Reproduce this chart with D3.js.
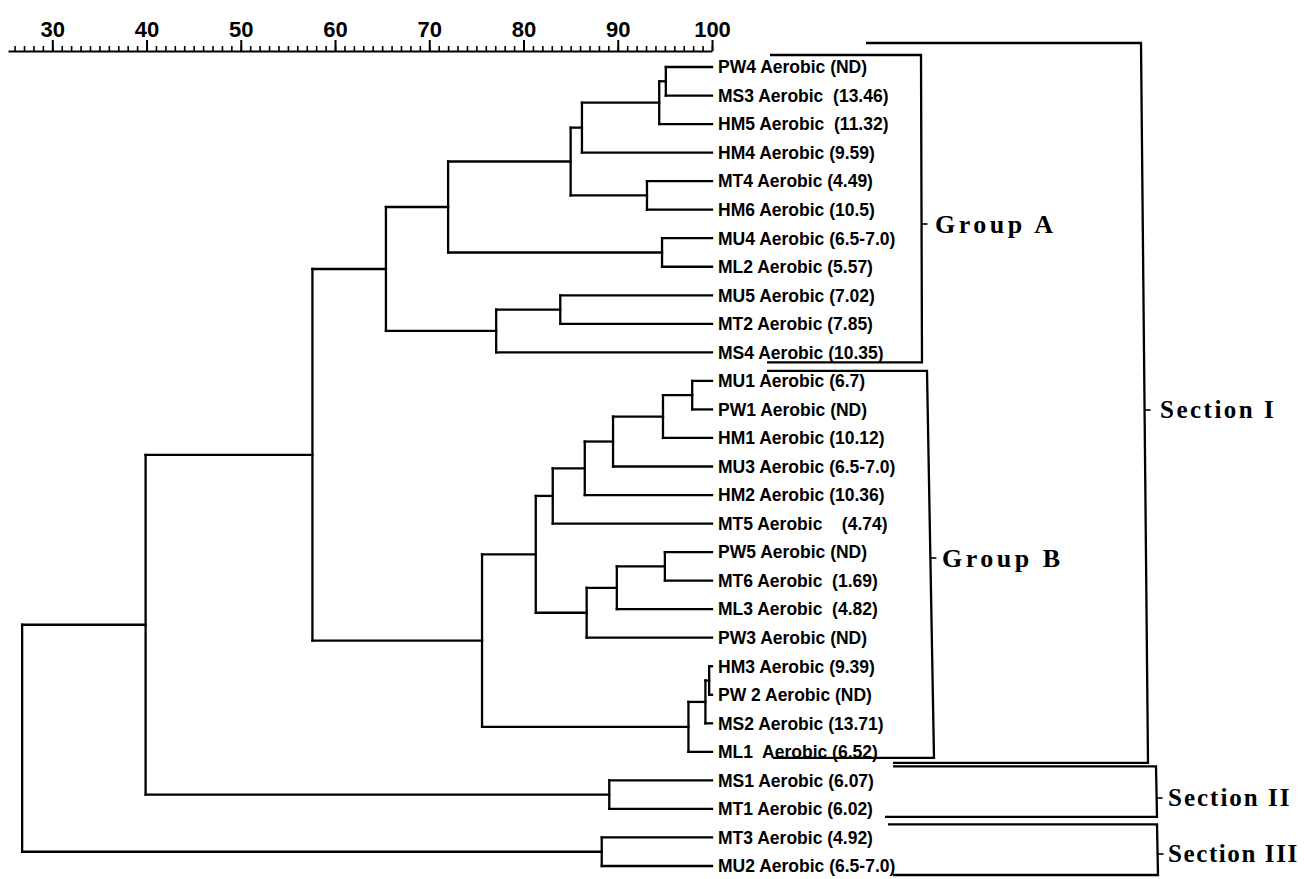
<!DOCTYPE html>
<html>
<head>
<meta charset="utf-8">
<script src="https://cdn.jsdelivr.net/npm/d3@7"></script>
<style>
  html, body { margin: 0; padding: 0; background: #fff; }
  svg { display: block; }
  .leaf { font-family: "Liberation Sans", Arial, sans-serif; font-size: 17.5px; font-weight: bold; white-space: pre; }
  .grp { font-family: "Liberation Serif", "Times New Roman", serif; font-size: 25px; font-weight: bold; }
  .ruler text { font-family: "Liberation Sans", Arial, sans-serif; font-size: 22px; font-weight: bold; fill: #000; }
</style>
</head>
<body>
<svg id="chart" width="1307" height="879"></svg>
<script>
// ---------------- DATA ----------------
const leafNames = [
  "PW4 Aerobic (ND)", "MS3 Aerobic  (13.46)", "HM5 Aerobic  (11.32)", "HM4 Aerobic (9.59)",
  "MT4 Aerobic (4.49)", "HM6 Aerobic (10.5)", "MU4 Aerobic (6.5-7.0)", "ML2 Aerobic (5.57)",
  "MU5 Aerobic (7.02)", "MT2 Aerobic (7.85)", "MS4 Aerobic (10.35)",
  "MU1 Aerobic (6.7)", "PW1 Aerobic (ND)", "HM1 Aerobic (10.12)", "MU3 Aerobic (6.5-7.0)",
  "HM2 Aerobic (10.36)", "MT5 Aerobic    (4.74)", "PW5 Aerobic (ND)", "MT6 Aerobic  (1.69)",
  "ML3 Aerobic  (4.82)", "PW3 Aerobic (ND)", "HM3 Aerobic (9.39)", "PW 2 Aerobic (ND)",
  "MS2 Aerobic (13.71)", "ML1  Aerobic (6.52)", "MS1 Aerobic (6.07)", "MT1 Aerobic (6.02)",
  "MT3 Aerobic (4.92)", "MU2 Aerobic (6.5-7.0)"
];
// linkage: each merge joins two nodes (leaf index < 29, merge k => 29 + k)
const mergePairs = [
  [0, 1], [29, 2], [30, 3], [4, 5], [31, 32], [6, 7], [33, 34], [8, 9], [36, 10], [35, 37],
  [11, 12], [39, 13], [40, 14], [41, 15], [42, 16], [17, 18], [44, 19], [45, 20], [43, 46],
  [21, 22], [48, 23], [49, 24], [47, 50], [38, 51], [25, 26], [52, 53], [27, 28], [54, 55]
];
const mergeSimilarity = [
  95.1, 94.4, 86.2, 93.1, 85.0, 94.7, 72.0, 83.9, 77.1, 65.4,
  97.9, 94.8, 89.5, 86.5, 83.1, 95.0, 89.9, 86.7, 81.3,
  99.7, 99.3, 97.5, 75.6, 57.6, 89.1, 39.9, 88.3, 26.8
];
const leafSimilarity = 100;
const tickValues = [30, 40, 50, 60, 70, 80, 90, 100];
const minorTickValues = d3.range(26, 101, 1);
const groupNames = ["Group A", "Group B", "Section I", "Section II", "Section III"];
const groupFirstLeaf = [0, 11, 0, 25, 27];
const groupLastLeaf = [10, 24, 24, 26, 28];

// ---------------- LAYOUT ----------------
const svg = d3.select("#chart");
const x = d3.scaleLinear().domain([25.3, 100]).range([8, 712]);
const y = d3.scalePoint().domain(d3.range(leafNames.length)).range([67, 866]);

// build tree objects
const nodes = leafNames.map((name, i) => ({ id: i, name, sim: leafSimilarity }));
mergePairs.forEach((p, k) => {
  nodes.push({ id: 29 + k, sim: mergeSimilarity[k], children: [nodes[p[0]], nodes[p[1]]] });
});
const root = d3.hierarchy(nodes[nodes.length - 1]);
root.eachAfter(n => {
  n.px = x(n.data.sim);
  n.py = n.children ? d3.mean(n.children, c => c.py) : y(n.data.id);
});

// ---------------- RULER ----------------
const ruler = svg.append("g").attr("class", "ruler").attr("transform", "translate(0,51)");
ruler.append("g")
  .call(d3.axisTop(x).tickValues(minorTickValues).tickSize(5).tickSizeOuter(0).tickFormat(""))
  .call(g => g.selectAll("line").attr("stroke", "#000").attr("stroke-width", 1.6))
  .call(g => g.select(".domain").attr("stroke", "#000").attr("stroke-width", 2.2));
ruler.append("g")
  .call(d3.axisTop(x).tickValues(tickValues).tickSize(11).tickSizeOuter(0).tickPadding(3).tickFormat(d3.format("d")))
  .call(g => g.selectAll("line").attr("stroke", "#000").attr("stroke-width", 2))
  .call(g => g.select(".domain").remove())
  .call(g => g.selectAll("text").attr("font-size", null).attr("font-family", null));

// ---------------- DENDROGRAM ----------------
const tree = svg.append("g").attr("fill", "none").attr("stroke", "#000").attr("stroke-width", 2.3)
  .attr("stroke-linecap", "square");
root.descendants().filter(n => n.children).forEach(n => {
  const ys = n.children.map(c => c.py);
  tree.append("path").attr("d", `M${n.px},${d3.min(ys)}V${d3.max(ys)}`);
  n.children.forEach(c => {
    tree.append("path").attr("d", `M${n.px},${c.py}H${c.px}`);
  });
});

// leaf labels
svg.append("g").selectAll("text").data(root.leaves()).join("text")
  .attr("class", "leaf")
  .attr("x", d => d.px + 6)
  .attr("y", d => d.py)
  .attr("dy", "0.36em")
  .text(d => d.data.name);

// ---------------- BRACKETS ----------------
const bracketGeom = [
  { top: -12, bot: 10, leftTop: 770, leftBot: 767, rTop: 921, rBot: 922, mid: 224, tx: 935, ls: 3.5, fs: 26 },
  { top: -10, bot: 6, leftTop: 767, leftBot: 773, rTop: 927, rBot: 934, mid: 558, tx: 942, ls: 3.5, fs: 26 },
  { top: -24, bot: 11, leftTop: 866, leftBot: 893, rTop: 1141, rBot: 1148, mid: 410, tx: 1160, ls: 2.5, fs: 25 },
  { top: -14, bot: 8, leftTop: 893, leftBot: 885, rTop: 1156, rBot: 1157, mid: 798, tx: 1168, ls: 2, fs: 25 },
  { top: -13, bot: 9, leftTop: 888, leftBot: 893, rTop: 1157, rBot: 1158, mid: 854, tx: 1168, ls: 1.6, fs: 25 }
];
const br = svg.append("g");
groupNames.forEach((name, i) => {
  const g = bracketGeom[i];
  const yt = y(groupFirstLeaf[i]) + g.top;
  const yb = y(groupLastLeaf[i]) + g.bot;
  br.append("path")
    .attr("d", `M${g.leftTop},${yt}H${g.rTop}L${g.rBot},${yb}H${g.leftBot}`)
    .attr("fill", "none").attr("stroke", "#000").attr("stroke-width", 2.3);
  const xm = g.rTop + (g.rBot - g.rTop) * (g.mid - yt) / (yb - yt);
  br.append("path").attr("d", `M${xm},${g.mid}H${xm + 6}`)
    .attr("stroke", "#000").attr("stroke-width", 1.6);
  br.append("text").attr("class", "grp")
    .attr("x", g.tx).attr("y", g.mid).attr("dy", "0.33em")
    .style("letter-spacing", g.ls + "px")
    .style("font-size", g.fs + "px")
    .text(name);
});
</script>
</body>
</html>
